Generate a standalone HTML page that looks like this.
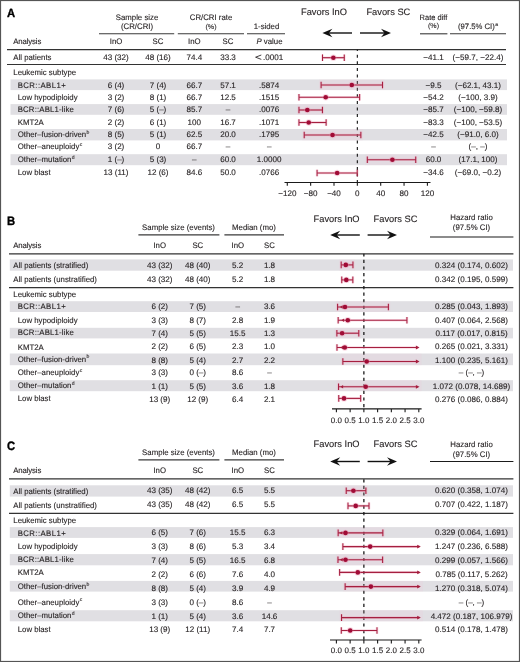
<!DOCTYPE html>
<html><head><meta charset="utf-8"><title>Forest plots</title>
<style>
html,body{margin:0;padding:0;background:#fff;}
body{width:520px;height:662px;overflow:hidden;}
svg{display:block;filter:blur(0.3px);}
text{font-family:"Liberation Sans",sans-serif;stroke:#231f20;stroke-width:0.12px;text-rendering:geometricPrecision;}
</style></head><body>
<svg width="520" height="662" viewBox="0 0 520 662" font-family="Liberation Sans, sans-serif" fill="#231f20">
<rect x="0" y="0" width="520" height="662" fill="#fff"/>
<text transform="translate(7.00 17.00) scale(0.9515 1)" font-size="11.845" fill="#000" font-weight="bold" style="stroke:#000;stroke-width:0.35px">A</text>
<text transform="translate(137.00 19.60) scale(0.9750 1)" font-size="8.000" text-anchor="middle">Sample size</text>
<text transform="translate(137.00 29.00) scale(0.9750 1)" font-size="8.000" text-anchor="middle">(CR/CRI)</text>
<line x1="99.00" y1="33.80" x2="174.20" y2="33.80" stroke="#3a3a3a" stroke-width="1.1"/>
<text transform="translate(211.00 19.60) scale(0.9750 1)" font-size="8.000" text-anchor="middle">CR/CRI rate</text>
<text transform="translate(211.00 28.50) scale(1.0100 1)" font-size="7.000" text-anchor="middle">(%)</text>
<line x1="177.80" y1="33.80" x2="244.00" y2="33.80" stroke="#3a3a3a" stroke-width="1.1"/>
<text transform="translate(266.50 29.00) scale(0.9750 1)" font-size="8.000" text-anchor="middle">1-sided</text>
<line x1="247.00" y1="33.80" x2="285.00" y2="33.80" stroke="#3a3a3a" stroke-width="1.1"/>
<text transform="translate(13.30 43.80) scale(0.9750 1)" font-size="8.000" textLength="28.72" lengthAdjust="spacing">Analysis</text>
<text transform="translate(116.00 43.80) scale(0.9750 1)" font-size="8.000" text-anchor="middle">InO</text>
<text transform="translate(158.00 43.80) scale(0.9750 1)" font-size="8.000" text-anchor="middle">SC</text>
<text transform="translate(194.30 43.80) scale(0.9750 1)" font-size="8.000" text-anchor="middle">InO</text>
<text transform="translate(228.00 43.80) scale(0.9750 1)" font-size="8.000" text-anchor="middle">SC</text>
<text transform="translate(269.50 43.80) scale(0.9750 1)" font-size="8.000" text-anchor="middle"><tspan font-style="italic">P</tspan> value</text>
<text transform="translate(301.00 15.20) scale(1.0000 1)" font-size="9.300">Favors InO</text>
<text transform="translate(366.40 15.20) scale(1.0000 1)" font-size="9.300">Favors SC</text>
<line x1="327.40" y1="33.00" x2="352.00" y2="33.00" stroke="#111" stroke-width="1.4"/>
<path d="M322.40,33.00 L332.40,28.70 L328.90,33.00 L332.40,37.30 Z" fill="#111"/>
<line x1="360.00" y1="33.00" x2="386.00" y2="33.00" stroke="#111" stroke-width="1.4"/>
<path d="M391.00,33.00 L381.00,28.70 L384.50,33.00 L381.00,37.30 Z" fill="#111"/>
<text transform="translate(433.50 19.50) scale(0.9750 1)" font-size="7.700" text-anchor="middle">Rate diff</text>
<text transform="translate(433.50 28.30) scale(1.0100 1)" font-size="7.000" text-anchor="middle">(%)</text>
<line x1="420.00" y1="33.80" x2="447.40" y2="33.80" stroke="#3a3a3a" stroke-width="1.1"/>
<text transform="translate(478.00 29.20) scale(0.9750 1)" font-size="7.900" text-anchor="middle">(97.5% CI)<tspan font-size="5.2" dx="0.4" dy="-3.4">a</tspan></text>
<line x1="450.00" y1="33.80" x2="506.00" y2="33.80" stroke="#3a3a3a" stroke-width="1.1"/>
<line x1="7.00" y1="49.60" x2="506.00" y2="49.60" stroke="#333" stroke-width="1.2"/>
<line x1="7.00" y1="64.50" x2="506.00" y2="64.50" stroke="#333" stroke-width="1.2"/>
<rect x="10.50" y="79.40" width="496.50" height="10.70" fill="#e0dfe3"/>
<rect x="10.50" y="104.10" width="496.50" height="10.70" fill="#e0dfe3"/>
<rect x="10.50" y="129.00" width="496.50" height="11.40" fill="#e0dfe3"/>
<rect x="10.50" y="154.20" width="496.50" height="11.00" fill="#e0dfe3"/>
<line x1="357.35" y1="49.60" x2="357.35" y2="182.50" stroke="#1a1a1a" stroke-width="1.15" stroke-dasharray="3.0 3.6" stroke-dashoffset="1.5"/>
<text transform="translate(13.30 59.80) scale(0.9750 1)" font-size="8.000">All patients</text>
<text transform="translate(116.00 59.80) scale(1.0100 1)" font-size="8.000" text-anchor="middle">43 (32)</text>
<text transform="translate(158.00 59.80) scale(1.0100 1)" font-size="8.000" text-anchor="middle">48 (16)</text>
<text transform="translate(194.30 59.80) scale(1.0100 1)" font-size="8.000" text-anchor="middle">74.4</text>
<text transform="translate(228.00 59.80) scale(1.0100 1)" font-size="8.000" text-anchor="middle">33.3</text>
<text transform="translate(433.50 59.80) scale(1.0100 1)" font-size="8.000" text-anchor="middle">−41.1</text>
<text transform="translate(478.00 59.80) scale(1.0100 1)" font-size="8.000" text-anchor="middle">(−59.7, −22.4)</text>
<path d="M322.50,54.40V61.00M322.50,57.70H344.27M344.27,54.40V61.00" stroke="#ee8fb0" stroke-width="2.6" stroke-opacity="0.35" fill="none"/>
<line x1="322.50" y1="57.70" x2="344.27" y2="57.70" stroke="#a51f3f" stroke-width="1.1"/>
<line x1="322.50" y1="54.40" x2="322.50" y2="61.00" stroke="#a51f3f" stroke-width="1.05"/>
<line x1="344.27" y1="54.40" x2="344.27" y2="61.00" stroke="#a51f3f" stroke-width="1.05"/>
<circle cx="333.36" cy="57.70" r="3.2" fill="#ee8fb0" fill-opacity="0.35"/>
<circle cx="333.36" cy="57.70" r="2.3" fill="#a00c36"/>
<path d="M261.3,55.0 L255.6,57.2 L261.3,59.4" fill="none" stroke="#231f20" stroke-width="0.85"/>
<text transform="translate(263.00 60.20) scale(1.0100 1)" font-size="8.000">.0001</text>
<text transform="translate(13.30 74.50) scale(0.9750 1)" font-size="8.000">Leukemic subtype</text>
<text transform="translate(17.70 87.70) scale(0.9750 1)" font-size="8.000" textLength="49.23" lengthAdjust="spacing">BCR::ABL1+</text>
<text transform="translate(116.00 87.70) scale(1.0100 1)" font-size="8.000" text-anchor="middle">6 (4)</text>
<text transform="translate(158.00 87.70) scale(1.0100 1)" font-size="8.000" text-anchor="middle">7 (4)</text>
<text transform="translate(194.30 87.70) scale(1.0100 1)" font-size="8.000" text-anchor="middle">66.7</text>
<text transform="translate(228.00 87.70) scale(1.0100 1)" font-size="8.000" text-anchor="middle">57.1</text>
<text transform="translate(269.20 87.70) scale(1.0100 1)" font-size="8.000" text-anchor="middle">.5874</text>
<text transform="translate(433.50 87.70) scale(1.0100 1)" font-size="8.000" text-anchor="middle">−9.5</text>
<text transform="translate(478.00 87.70) scale(1.0100 1)" font-size="8.000" text-anchor="middle">(−62.1, 43.1)</text>
<rect x="319.10" y="79.40" width="65.42" height="10.70" fill="#f4c8d8" fill-opacity="0.18"/>
<path d="M321.10,81.70V88.30M321.10,85.00H382.51M382.51,81.70V88.30" stroke="#ee8fb0" stroke-width="2.6" stroke-opacity="0.35" fill="none"/>
<line x1="321.10" y1="85.00" x2="382.51" y2="85.00" stroke="#a51f3f" stroke-width="1.1"/>
<line x1="321.10" y1="81.70" x2="321.10" y2="88.30" stroke="#a51f3f" stroke-width="1.05"/>
<line x1="382.51" y1="81.70" x2="382.51" y2="88.30" stroke="#a51f3f" stroke-width="1.05"/>
<circle cx="351.80" cy="85.00" r="3.2" fill="#ee8fb0" fill-opacity="0.35"/>
<circle cx="351.80" cy="85.00" r="2.3" fill="#a00c36"/>
<text transform="translate(17.70 99.80) scale(0.9750 1)" font-size="8.000">Low hypodiploidy</text>
<text transform="translate(116.00 99.80) scale(1.0100 1)" font-size="8.000" text-anchor="middle">3 (2)</text>
<text transform="translate(158.00 99.80) scale(1.0100 1)" font-size="8.000" text-anchor="middle">8 (1)</text>
<text transform="translate(194.30 99.80) scale(1.0100 1)" font-size="8.000" text-anchor="middle">66.7</text>
<text transform="translate(228.00 99.80) scale(1.0100 1)" font-size="8.000" text-anchor="middle">12.5</text>
<text transform="translate(269.20 99.80) scale(1.0100 1)" font-size="8.000" text-anchor="middle">.1515</text>
<text transform="translate(433.50 99.80) scale(1.0100 1)" font-size="8.000" text-anchor="middle">−54.2</text>
<text transform="translate(478.00 99.80) scale(1.0100 1)" font-size="8.000" text-anchor="middle">(−100, 3.9)</text>
<path d="M298.97,94.00V100.60M298.97,97.30H359.63M359.63,94.00V100.60" stroke="#ee8fb0" stroke-width="2.6" stroke-opacity="0.35" fill="none"/>
<line x1="298.97" y1="97.30" x2="359.63" y2="97.30" stroke="#a51f3f" stroke-width="1.1"/>
<line x1="298.97" y1="94.00" x2="298.97" y2="100.60" stroke="#a51f3f" stroke-width="1.05"/>
<line x1="359.63" y1="94.00" x2="359.63" y2="100.60" stroke="#a51f3f" stroke-width="1.05"/>
<circle cx="325.71" cy="97.30" r="3.2" fill="#ee8fb0" fill-opacity="0.35"/>
<circle cx="325.71" cy="97.30" r="2.3" fill="#a00c36"/>
<text transform="translate(17.70 112.20) scale(0.9750 1)" font-size="8.000" textLength="57.64" lengthAdjust="spacing">BCR::ABL1-like</text>
<text transform="translate(116.00 112.20) scale(1.0100 1)" font-size="8.000" text-anchor="middle">7 (6)</text>
<text transform="translate(158.00 112.20) scale(1.0100 1)" font-size="8.000" text-anchor="middle">5 (–)</text>
<text transform="translate(194.30 112.20) scale(1.0100 1)" font-size="8.000" text-anchor="middle">85.7</text>
<text transform="translate(228.00 112.20) scale(1.0100 1)" font-size="8.000" text-anchor="middle">–</text>
<text transform="translate(269.20 112.20) scale(1.0100 1)" font-size="8.000" text-anchor="middle">.0076</text>
<text transform="translate(433.50 112.20) scale(1.0100 1)" font-size="8.000" text-anchor="middle">−85.7</text>
<text transform="translate(478.00 112.20) scale(1.0100 1)" font-size="8.000" text-anchor="middle">(−100, −59.8)</text>
<rect x="296.97" y="104.10" width="27.47" height="10.70" fill="#f4c8d8" fill-opacity="0.18"/>
<path d="M298.97,106.70V113.30M298.97,110.00H322.44M322.44,106.70V113.30" stroke="#ee8fb0" stroke-width="2.6" stroke-opacity="0.35" fill="none"/>
<line x1="298.97" y1="110.00" x2="322.44" y2="110.00" stroke="#a51f3f" stroke-width="1.1"/>
<line x1="298.97" y1="106.70" x2="298.97" y2="113.30" stroke="#a51f3f" stroke-width="1.05"/>
<line x1="322.44" y1="106.70" x2="322.44" y2="113.30" stroke="#a51f3f" stroke-width="1.05"/>
<circle cx="307.32" cy="110.00" r="3.2" fill="#ee8fb0" fill-opacity="0.35"/>
<circle cx="307.32" cy="110.00" r="2.3" fill="#a00c36"/>
<text transform="translate(17.70 124.90) scale(0.9750 1)" font-size="8.000">KMT2A</text>
<text transform="translate(116.00 124.90) scale(1.0100 1)" font-size="8.000" text-anchor="middle">2 (2)</text>
<text transform="translate(158.00 124.90) scale(1.0100 1)" font-size="8.000" text-anchor="middle">6 (1)</text>
<text transform="translate(194.30 124.90) scale(1.0100 1)" font-size="8.000" text-anchor="middle">100</text>
<text transform="translate(228.00 124.90) scale(1.0100 1)" font-size="8.000" text-anchor="middle">16.7</text>
<text transform="translate(269.20 124.90) scale(1.0100 1)" font-size="8.000" text-anchor="middle">.1071</text>
<text transform="translate(433.50 124.90) scale(1.0100 1)" font-size="8.000" text-anchor="middle">−83.3</text>
<text transform="translate(478.00 124.90) scale(1.0100 1)" font-size="8.000" text-anchor="middle">(−100, −53.5)</text>
<path d="M298.97,119.20V125.80M298.97,122.50H326.12M326.12,119.20V125.80" stroke="#ee8fb0" stroke-width="2.6" stroke-opacity="0.35" fill="none"/>
<line x1="298.97" y1="122.50" x2="326.12" y2="122.50" stroke="#a51f3f" stroke-width="1.1"/>
<line x1="298.97" y1="119.20" x2="298.97" y2="125.80" stroke="#a51f3f" stroke-width="1.05"/>
<line x1="326.12" y1="119.20" x2="326.12" y2="125.80" stroke="#a51f3f" stroke-width="1.05"/>
<circle cx="308.72" cy="122.50" r="3.2" fill="#ee8fb0" fill-opacity="0.35"/>
<circle cx="308.72" cy="122.50" r="2.3" fill="#a00c36"/>
<text transform="translate(17.70 137.20) scale(0.9750 1)" font-size="8.000">Other–fusion-driven<tspan font-size="5.2" dx="0.4" dy="-3.4">b</tspan></text>
<text transform="translate(116.00 137.20) scale(1.0100 1)" font-size="8.000" text-anchor="middle">8 (5)</text>
<text transform="translate(158.00 137.20) scale(1.0100 1)" font-size="8.000" text-anchor="middle">5 (1)</text>
<text transform="translate(194.30 137.20) scale(1.0100 1)" font-size="8.000" text-anchor="middle">62.5</text>
<text transform="translate(228.00 137.20) scale(1.0100 1)" font-size="8.000" text-anchor="middle">20.0</text>
<text transform="translate(269.20 137.20) scale(1.0100 1)" font-size="8.000" text-anchor="middle">.1795</text>
<text transform="translate(433.50 137.20) scale(1.0100 1)" font-size="8.000" text-anchor="middle">−42.5</text>
<text transform="translate(478.00 137.20) scale(1.0100 1)" font-size="8.000" text-anchor="middle">(−91.0, 6.0)</text>
<rect x="302.22" y="129.00" width="60.63" height="11.40" fill="#f4c8d8" fill-opacity="0.18"/>
<path d="M304.22,131.70V138.30M304.22,135.00H360.85M360.85,131.70V138.30" stroke="#ee8fb0" stroke-width="2.6" stroke-opacity="0.35" fill="none"/>
<line x1="304.22" y1="135.00" x2="360.85" y2="135.00" stroke="#a51f3f" stroke-width="1.1"/>
<line x1="304.22" y1="131.70" x2="304.22" y2="138.30" stroke="#a51f3f" stroke-width="1.05"/>
<line x1="360.85" y1="131.70" x2="360.85" y2="138.30" stroke="#a51f3f" stroke-width="1.05"/>
<circle cx="332.54" cy="135.00" r="3.2" fill="#ee8fb0" fill-opacity="0.35"/>
<circle cx="332.54" cy="135.00" r="2.3" fill="#a00c36"/>
<text transform="translate(17.70 149.40) scale(0.9750 1)" font-size="8.000">Other–aneuploidy<tspan font-size="5.2" dx="0.4" dy="-3.4">c</tspan></text>
<text transform="translate(116.00 149.40) scale(1.0100 1)" font-size="8.000" text-anchor="middle">3 (2)</text>
<text transform="translate(158.00 149.40) scale(1.0100 1)" font-size="8.000" text-anchor="middle">0</text>
<text transform="translate(194.30 149.40) scale(1.0100 1)" font-size="8.000" text-anchor="middle">66.7</text>
<text transform="translate(228.00 149.40) scale(1.0100 1)" font-size="8.000" text-anchor="middle">–</text>
<text transform="translate(269.20 149.40) scale(1.0100 1)" font-size="8.000" text-anchor="middle">–</text>
<text transform="translate(433.50 149.40) scale(1.0100 1)" font-size="8.000" text-anchor="middle">–</text>
<text transform="translate(478.00 149.40) scale(1.0100 1)" font-size="8.000" text-anchor="middle">(–, –)</text>
<text transform="translate(17.70 162.30) scale(0.9750 1)" font-size="8.000">Other–mutation<tspan font-size="5.2" dx="0.4" dy="-3.4">d</tspan></text>
<text transform="translate(116.00 162.30) scale(1.0100 1)" font-size="8.000" text-anchor="middle">1 (–)</text>
<text transform="translate(158.00 162.30) scale(1.0100 1)" font-size="8.000" text-anchor="middle">5 (3)</text>
<text transform="translate(194.30 162.30) scale(1.0100 1)" font-size="8.000" text-anchor="middle">–</text>
<text transform="translate(228.00 162.30) scale(1.0100 1)" font-size="8.000" text-anchor="middle">60.0</text>
<text transform="translate(269.20 162.30) scale(1.0100 1)" font-size="8.000" text-anchor="middle">1.0000</text>
<text transform="translate(433.50 162.30) scale(1.0100 1)" font-size="8.000" text-anchor="middle">60.0</text>
<text transform="translate(478.00 162.30) scale(1.0100 1)" font-size="8.000" text-anchor="middle">(17.1, 100)</text>
<rect x="365.33" y="154.20" width="52.40" height="11.00" fill="#f4c8d8" fill-opacity="0.18"/>
<path d="M367.33,156.40V163.00M367.33,159.70H415.73M415.73,156.40V163.00" stroke="#ee8fb0" stroke-width="2.6" stroke-opacity="0.35" fill="none"/>
<line x1="367.33" y1="159.70" x2="415.73" y2="159.70" stroke="#a51f3f" stroke-width="1.1"/>
<line x1="367.33" y1="156.40" x2="367.33" y2="163.00" stroke="#a51f3f" stroke-width="1.05"/>
<line x1="415.73" y1="156.40" x2="415.73" y2="163.00" stroke="#a51f3f" stroke-width="1.05"/>
<circle cx="392.38" cy="159.70" r="3.2" fill="#ee8fb0" fill-opacity="0.35"/>
<circle cx="392.38" cy="159.70" r="2.3" fill="#a00c36"/>
<text transform="translate(17.70 175.30) scale(0.9750 1)" font-size="8.000">Low blast</text>
<text transform="translate(116.00 175.30) scale(1.0100 1)" font-size="8.000" text-anchor="middle">13 (11)</text>
<text transform="translate(158.00 175.30) scale(1.0100 1)" font-size="8.000" text-anchor="middle">12 (6)</text>
<text transform="translate(194.30 175.30) scale(1.0100 1)" font-size="8.000" text-anchor="middle">84.6</text>
<text transform="translate(228.00 175.30) scale(1.0100 1)" font-size="8.000" text-anchor="middle">50.0</text>
<text transform="translate(269.20 175.30) scale(1.0100 1)" font-size="8.000" text-anchor="middle">.0766</text>
<text transform="translate(433.50 175.30) scale(1.0100 1)" font-size="8.000" text-anchor="middle">−34.6</text>
<text transform="translate(478.00 175.30) scale(1.0100 1)" font-size="8.000" text-anchor="middle">(−69.0, −0.2)</text>
<path d="M317.07,169.70V176.30M317.07,173.00H357.23M357.23,169.70V176.30" stroke="#ee8fb0" stroke-width="2.6" stroke-opacity="0.35" fill="none"/>
<line x1="317.07" y1="173.00" x2="357.23" y2="173.00" stroke="#a51f3f" stroke-width="1.1"/>
<line x1="317.07" y1="169.70" x2="317.07" y2="176.30" stroke="#a51f3f" stroke-width="1.05"/>
<line x1="357.23" y1="169.70" x2="357.23" y2="176.30" stroke="#a51f3f" stroke-width="1.05"/>
<circle cx="337.15" cy="173.00" r="3.2" fill="#ee8fb0" fill-opacity="0.35"/>
<circle cx="337.15" cy="173.00" r="2.3" fill="#a00c36"/>
<line x1="284.50" y1="182.50" x2="430.50" y2="182.50" stroke="#1a1a1a" stroke-width="1.2"/>
<line x1="287.29" y1="182.50" x2="287.29" y2="185.70" stroke="#1a1a1a" stroke-width="1.1"/>
<text transform="translate(287.29 195.60) scale(1.0100 1)" font-size="8.000" text-anchor="middle">−120</text>
<line x1="310.65" y1="182.50" x2="310.65" y2="185.70" stroke="#1a1a1a" stroke-width="1.1"/>
<text transform="translate(310.65 195.60) scale(1.0100 1)" font-size="8.000" text-anchor="middle">−80</text>
<line x1="334.00" y1="182.50" x2="334.00" y2="185.70" stroke="#1a1a1a" stroke-width="1.1"/>
<text transform="translate(334.00 195.60) scale(1.0100 1)" font-size="8.000" text-anchor="middle">−40</text>
<line x1="357.35" y1="182.50" x2="357.35" y2="185.70" stroke="#1a1a1a" stroke-width="1.1"/>
<text transform="translate(357.35 195.60) scale(1.0100 1)" font-size="8.000" text-anchor="middle">0</text>
<line x1="380.70" y1="182.50" x2="380.70" y2="185.70" stroke="#1a1a1a" stroke-width="1.1"/>
<text transform="translate(380.70 195.60) scale(1.0100 1)" font-size="8.000" text-anchor="middle">40</text>
<line x1="404.05" y1="182.50" x2="404.05" y2="185.70" stroke="#1a1a1a" stroke-width="1.1"/>
<text transform="translate(404.05 195.60) scale(1.0100 1)" font-size="8.000" text-anchor="middle">80</text>
<line x1="427.41" y1="182.50" x2="427.41" y2="185.70" stroke="#1a1a1a" stroke-width="1.1"/>
<text transform="translate(427.41 195.60) scale(1.0100 1)" font-size="8.000" text-anchor="middle">120</text>
<text transform="translate(7.00 224.60) scale(0.9245 1)" font-size="12.190" fill="#000" font-weight="bold" style="stroke:#000;stroke-width:0.35px">B</text>
<text transform="translate(178.50 230.00) scale(0.9750 1)" font-size="8.000" text-anchor="middle">Sample size (events)</text>
<line x1="138.40" y1="234.90" x2="219.40" y2="234.90" stroke="#3a3a3a" stroke-width="1.1"/>
<text transform="translate(254.00 230.00) scale(0.9750 1)" font-size="8.000" text-anchor="middle">Median (mo)</text>
<line x1="224.40" y1="234.90" x2="284.00" y2="234.90" stroke="#3a3a3a" stroke-width="1.1"/>
<text transform="translate(13.30 248.00) scale(0.9750 1)" font-size="8.000" textLength="28.72" lengthAdjust="spacing">Analysis</text>
<text transform="translate(159.70 248.00) scale(0.9750 1)" font-size="8.000" text-anchor="middle">InO</text>
<text transform="translate(197.80 248.00) scale(0.9750 1)" font-size="8.000" text-anchor="middle">SC</text>
<text transform="translate(237.80 248.00) scale(0.9750 1)" font-size="8.000" text-anchor="middle">InO</text>
<text transform="translate(269.40 248.00) scale(0.9750 1)" font-size="8.000" text-anchor="middle">SC</text>
<text transform="translate(313.60 222.40) scale(1.0000 1)" font-size="9.300">Favors InO</text>
<text transform="translate(373.60 222.40) scale(1.0000 1)" font-size="9.300">Favors SC</text>
<line x1="335.20" y1="235.00" x2="359.80" y2="235.00" stroke="#111" stroke-width="1.4"/>
<path d="M330.20,235.00 L340.20,230.70 L336.70,235.00 L340.20,239.30 Z" fill="#111"/>
<line x1="367.60" y1="235.00" x2="392.00" y2="235.00" stroke="#111" stroke-width="1.4"/>
<path d="M397.00,235.00 L387.00,230.70 L390.50,235.00 L387.00,239.30 Z" fill="#111"/>
<text transform="translate(471.50 220.10) scale(0.9750 1)" font-size="8.000" text-anchor="middle">Hazard ratio</text>
<text transform="translate(471.50 229.80) scale(0.9750 1)" font-size="8.000" text-anchor="middle">(97.5% CI)</text>
<line x1="430.00" y1="237.00" x2="513.40" y2="237.00" stroke="#1a1a1a" stroke-width="1.1"/>
<line x1="9.00" y1="253.80" x2="513.40" y2="253.80" stroke="#333" stroke-width="1.3"/>
<rect x="9.80" y="259.40" width="503.20" height="11.30" fill="#e0dfe3"/>
<rect x="9.80" y="301.20" width="503.20" height="10.80" fill="#e0dfe3"/>
<rect x="9.80" y="327.80" width="503.20" height="10.60" fill="#e0dfe3"/>
<rect x="9.80" y="353.50" width="503.20" height="11.70" fill="#e0dfe3"/>
<rect x="9.80" y="380.20" width="503.20" height="11.00" fill="#e0dfe3"/>
<line x1="9.00" y1="287.70" x2="513.40" y2="287.70" stroke="#333" stroke-width="1.3"/>
<line x1="363.87" y1="253.80" x2="363.87" y2="408.90" stroke="#1a1a1a" stroke-width="1.3" stroke-dasharray="3.2 3.35" stroke-dashoffset="0.5"/>
<text transform="translate(13.30 267.60) scale(0.9750 1)" font-size="8.000">All patients (stratified)</text>
<text transform="translate(159.70 267.60) scale(1.0100 1)" font-size="8.000" text-anchor="middle">43 (32)</text>
<text transform="translate(197.70 267.60) scale(1.0100 1)" font-size="8.000" text-anchor="middle">48 (40)</text>
<text transform="translate(237.70 267.60) scale(1.0100 1)" font-size="8.000" text-anchor="middle">5.2</text>
<text transform="translate(269.50 267.60) scale(1.0100 1)" font-size="8.000" text-anchor="middle">1.8</text>
<text transform="translate(471.50 267.60) scale(1.0100 1)" font-size="8.000" text-anchor="middle">0.324 (0.174, 0.602)</text>
<rect x="339.18" y="259.40" width="15.76" height="11.30" fill="#f4c8d8" fill-opacity="0.18"/>
<path d="M341.18,261.60V268.20M341.18,264.90H352.94M352.94,261.60V268.20" stroke="#ee8fb0" stroke-width="2.6" stroke-opacity="0.35" fill="none"/>
<line x1="341.18" y1="264.90" x2="352.94" y2="264.90" stroke="#a51f3f" stroke-width="1.1"/>
<line x1="341.18" y1="261.60" x2="341.18" y2="268.20" stroke="#a51f3f" stroke-width="1.05"/>
<line x1="352.94" y1="261.60" x2="352.94" y2="268.20" stroke="#a51f3f" stroke-width="1.05"/>
<circle cx="345.80" cy="264.90" r="3.2" fill="#ee8fb0" fill-opacity="0.35"/>
<circle cx="345.80" cy="264.90" r="2.3" fill="#a00c36"/>
<text transform="translate(13.30 281.80) scale(0.9750 1)" font-size="8.000">All patients (unstratified)</text>
<text transform="translate(159.70 281.90) scale(1.0100 1)" font-size="8.000" text-anchor="middle">43 (32)</text>
<text transform="translate(197.70 281.90) scale(1.0100 1)" font-size="8.000" text-anchor="middle">48 (40)</text>
<text transform="translate(237.70 281.90) scale(1.0100 1)" font-size="8.000" text-anchor="middle">5.2</text>
<text transform="translate(269.50 281.90) scale(1.0100 1)" font-size="8.000" text-anchor="middle">1.8</text>
<text transform="translate(471.50 281.90) scale(1.0100 1)" font-size="8.000" text-anchor="middle">0.342 (0.195, 0.599)</text>
<path d="M341.76,276.60V283.20M341.76,279.90H352.85M352.85,276.60V283.20" stroke="#ee8fb0" stroke-width="2.6" stroke-opacity="0.35" fill="none"/>
<line x1="341.76" y1="279.90" x2="352.85" y2="279.90" stroke="#a51f3f" stroke-width="1.1"/>
<line x1="341.76" y1="276.60" x2="341.76" y2="283.20" stroke="#a51f3f" stroke-width="1.05"/>
<line x1="352.85" y1="276.60" x2="352.85" y2="283.20" stroke="#a51f3f" stroke-width="1.05"/>
<circle cx="346.30" cy="279.90" r="3.2" fill="#ee8fb0" fill-opacity="0.35"/>
<circle cx="346.30" cy="279.90" r="2.3" fill="#a00c36"/>
<text transform="translate(17.70 309.10) scale(0.9750 1)" font-size="8.000" textLength="49.23" lengthAdjust="spacing">BCR::ABL1+</text>
<text transform="translate(159.70 309.40) scale(1.0100 1)" font-size="8.000" text-anchor="middle">6 (2)</text>
<text transform="translate(197.70 309.40) scale(1.0100 1)" font-size="8.000" text-anchor="middle">7 (5)</text>
<text transform="translate(237.70 309.40) scale(1.0100 1)" font-size="8.000" text-anchor="middle">–</text>
<text transform="translate(269.50 309.40) scale(1.0100 1)" font-size="8.000" text-anchor="middle">3.6</text>
<text transform="translate(471.50 309.40) scale(1.0100 1)" font-size="8.000" text-anchor="middle">0.285 (0.043, 1.893)</text>
<rect x="335.58" y="301.20" width="54.82" height="10.80" fill="#f4c8d8" fill-opacity="0.18"/>
<path d="M337.58,303.70V310.30M337.58,307.00H388.40M388.40,303.70V310.30" stroke="#ee8fb0" stroke-width="2.6" stroke-opacity="0.35" fill="none"/>
<line x1="337.58" y1="307.00" x2="388.40" y2="307.00" stroke="#a51f3f" stroke-width="1.1"/>
<line x1="337.58" y1="303.70" x2="337.58" y2="310.30" stroke="#a51f3f" stroke-width="1.05"/>
<line x1="388.40" y1="303.70" x2="388.40" y2="310.30" stroke="#a51f3f" stroke-width="1.05"/>
<circle cx="345.00" cy="307.00" r="3.2" fill="#ee8fb0" fill-opacity="0.35"/>
<circle cx="345.00" cy="307.00" r="2.3" fill="#a00c36"/>
<path d="M339.90,307.00 L342.60,305.30 L342.60,308.70 Z" fill="#a51f3f"/>
<text transform="translate(17.70 322.70) scale(0.9750 1)" font-size="8.000">Low hypodiploidy</text>
<text transform="translate(159.70 322.50) scale(1.0100 1)" font-size="8.000" text-anchor="middle">3 (3)</text>
<text transform="translate(197.70 322.50) scale(1.0100 1)" font-size="8.000" text-anchor="middle">8 (7)</text>
<text transform="translate(237.70 322.50) scale(1.0100 1)" font-size="8.000" text-anchor="middle">2.8</text>
<text transform="translate(269.50 322.50) scale(1.0100 1)" font-size="8.000" text-anchor="middle">1.9</text>
<text transform="translate(471.50 322.50) scale(1.0100 1)" font-size="8.000" text-anchor="middle">0.407 (0.064, 2.568)</text>
<path d="M338.16,316.90V323.50M338.16,320.20H406.94M406.94,316.90V323.50" stroke="#ee8fb0" stroke-width="2.6" stroke-opacity="0.35" fill="none"/>
<line x1="338.16" y1="320.20" x2="406.94" y2="320.20" stroke="#a51f3f" stroke-width="1.1"/>
<line x1="338.16" y1="316.90" x2="338.16" y2="323.50" stroke="#a51f3f" stroke-width="1.05"/>
<line x1="406.94" y1="316.90" x2="406.94" y2="323.50" stroke="#a51f3f" stroke-width="1.05"/>
<circle cx="347.80" cy="320.20" r="3.2" fill="#ee8fb0" fill-opacity="0.35"/>
<circle cx="347.80" cy="320.20" r="2.3" fill="#a00c36"/>
<path d="M341.40,320.20 L344.10,318.50 L344.10,321.90 Z" fill="#a51f3f"/>
<text transform="translate(17.70 335.00) scale(0.9750 1)" font-size="8.000" textLength="57.64" lengthAdjust="spacing">BCR::ABL1-like</text>
<text transform="translate(159.70 335.50) scale(1.0100 1)" font-size="8.000" text-anchor="middle">7 (4)</text>
<text transform="translate(197.70 335.50) scale(1.0100 1)" font-size="8.000" text-anchor="middle">5 (5)</text>
<text transform="translate(237.70 335.50) scale(1.0100 1)" font-size="8.000" text-anchor="middle">15.5</text>
<text transform="translate(269.50 335.50) scale(1.0100 1)" font-size="8.000" text-anchor="middle">1.3</text>
<text transform="translate(471.50 335.50) scale(1.0100 1)" font-size="8.000" text-anchor="middle">0.117 (0.017, 0.815)</text>
<rect x="334.87" y="327.80" width="25.92" height="10.60" fill="#f4c8d8" fill-opacity="0.18"/>
<path d="M336.87,329.90V336.50M336.87,333.20H358.79M358.79,329.90V336.50" stroke="#ee8fb0" stroke-width="2.6" stroke-opacity="0.35" fill="none"/>
<line x1="336.87" y1="333.20" x2="358.79" y2="333.20" stroke="#a51f3f" stroke-width="1.1"/>
<line x1="336.87" y1="329.90" x2="336.87" y2="336.50" stroke="#a51f3f" stroke-width="1.05"/>
<line x1="358.79" y1="329.90" x2="358.79" y2="336.50" stroke="#a51f3f" stroke-width="1.05"/>
<circle cx="342.10" cy="333.20" r="3.2" fill="#ee8fb0" fill-opacity="0.35"/>
<circle cx="342.10" cy="333.20" r="2.3" fill="#a00c36"/>
<text transform="translate(17.70 349.80) scale(0.9750 1)" font-size="8.000">KMT2A</text>
<text transform="translate(159.70 349.00) scale(1.0100 1)" font-size="8.000" text-anchor="middle">2 (2)</text>
<text transform="translate(197.70 349.00) scale(1.0100 1)" font-size="8.000" text-anchor="middle">6 (5)</text>
<text transform="translate(237.70 349.00) scale(1.0100 1)" font-size="8.000" text-anchor="middle">2.3</text>
<text transform="translate(269.50 349.00) scale(1.0100 1)" font-size="8.000" text-anchor="middle">1.0</text>
<text transform="translate(471.50 349.00) scale(1.0100 1)" font-size="8.000" text-anchor="middle">0.265 (0.021, 3.331)</text>
<path d="M336.98,344.20V350.80M336.98,347.50H418.00" stroke="#ee8fb0" stroke-width="2.6" stroke-opacity="0.35" fill="none"/>
<line x1="336.98" y1="347.50" x2="418.00" y2="347.50" stroke="#a51f3f" stroke-width="1.1"/>
<line x1="336.98" y1="344.20" x2="336.98" y2="350.80" stroke="#a51f3f" stroke-width="1.05"/>
<path d="M419.50,347.50 L415.90,345.60 L415.90,349.40 Z" fill="#a51f3f"/>
<circle cx="344.80" cy="347.50" r="3.2" fill="#ee8fb0" fill-opacity="0.35"/>
<circle cx="344.80" cy="347.50" r="2.3" fill="#a00c36"/>
<path d="M340.40,347.50 L343.10,345.80 L343.10,349.20 Z" fill="#a51f3f"/>
<text transform="translate(17.70 361.50) scale(0.9750 1)" font-size="8.000">Other–fusion-driven<tspan font-size="5.2" dx="0.4" dy="-3.4">b</tspan></text>
<text transform="translate(159.70 362.50) scale(1.0100 1)" font-size="8.000" text-anchor="middle">8 (8)</text>
<text transform="translate(197.70 362.50) scale(1.0100 1)" font-size="8.000" text-anchor="middle">5 (4)</text>
<text transform="translate(237.70 362.50) scale(1.0100 1)" font-size="8.000" text-anchor="middle">2.7</text>
<text transform="translate(269.50 362.50) scale(1.0100 1)" font-size="8.000" text-anchor="middle">2.2</text>
<text transform="translate(471.50 362.50) scale(1.0100 1)" font-size="8.000" text-anchor="middle">1.100 (0.235, 5.161)</text>
<rect x="340.86" y="353.50" width="80.64" height="11.70" fill="#f4c8d8" fill-opacity="0.18"/>
<path d="M342.86,358.20V364.80M342.86,361.50H418.00" stroke="#ee8fb0" stroke-width="2.6" stroke-opacity="0.35" fill="none"/>
<line x1="342.86" y1="361.50" x2="418.00" y2="361.50" stroke="#a51f3f" stroke-width="1.1"/>
<line x1="342.86" y1="358.20" x2="342.86" y2="364.80" stroke="#a51f3f" stroke-width="1.05"/>
<path d="M419.50,361.50 L415.90,359.60 L415.90,363.40 Z" fill="#a51f3f"/>
<circle cx="366.70" cy="361.50" r="3.2" fill="#ee8fb0" fill-opacity="0.35"/>
<circle cx="366.70" cy="361.50" r="2.3" fill="#a00c36"/>
<text transform="translate(17.70 375.20) scale(0.9750 1)" font-size="8.000">Other–aneuploidy<tspan font-size="5.2" dx="0.4" dy="-3.4">c</tspan></text>
<text transform="translate(159.70 375.30) scale(1.0100 1)" font-size="8.000" text-anchor="middle">3 (3)</text>
<text transform="translate(197.70 375.30) scale(1.0100 1)" font-size="8.000" text-anchor="middle">0 (–)</text>
<text transform="translate(237.70 375.30) scale(1.0100 1)" font-size="8.000" text-anchor="middle">8.6</text>
<text transform="translate(269.50 375.30) scale(1.0100 1)" font-size="8.000" text-anchor="middle">–</text>
<text transform="translate(471.50 375.30) scale(1.0100 1)" font-size="8.000" text-anchor="middle">– (–, –)</text>
<text transform="translate(17.70 387.90) scale(0.9750 1)" font-size="8.000">Other–mutation<tspan font-size="5.2" dx="0.4" dy="-3.4">d</tspan></text>
<text transform="translate(159.70 388.70) scale(1.0100 1)" font-size="8.000" text-anchor="middle">1 (1)</text>
<text transform="translate(197.70 388.70) scale(1.0100 1)" font-size="8.000" text-anchor="middle">5 (5)</text>
<text transform="translate(237.70 388.70) scale(1.0100 1)" font-size="8.000" text-anchor="middle">3.6</text>
<text transform="translate(269.50 388.70) scale(1.0100 1)" font-size="8.000" text-anchor="middle">1.8</text>
<text transform="translate(471.50 388.70) scale(1.0100 1)" font-size="8.000" text-anchor="middle">1.072 (0.078, 14.689)</text>
<rect x="336.54" y="380.20" width="84.96" height="11.00" fill="#f4c8d8" fill-opacity="0.18"/>
<path d="M338.54,383.50V390.10M338.54,386.80H418.00" stroke="#ee8fb0" stroke-width="2.6" stroke-opacity="0.35" fill="none"/>
<line x1="338.54" y1="386.80" x2="418.00" y2="386.80" stroke="#a51f3f" stroke-width="1.1"/>
<line x1="338.54" y1="383.50" x2="338.54" y2="390.10" stroke="#a51f3f" stroke-width="1.05"/>
<path d="M419.50,386.80 L415.90,384.90 L415.90,388.70 Z" fill="#a51f3f"/>
<circle cx="365.70" cy="386.80" r="3.2" fill="#ee8fb0" fill-opacity="0.35"/>
<circle cx="365.70" cy="386.80" r="2.3" fill="#a00c36"/>
<path d="M340.40,386.80 L343.10,385.10 L343.10,388.50 Z" fill="#a51f3f"/>
<text transform="translate(17.70 400.60) scale(0.9750 1)" font-size="8.000">Low blast</text>
<text transform="translate(159.70 401.60) scale(1.0100 1)" font-size="8.000" text-anchor="middle">13 (9)</text>
<text transform="translate(197.70 401.60) scale(1.0100 1)" font-size="8.000" text-anchor="middle">12 (9)</text>
<text transform="translate(237.70 401.60) scale(1.0100 1)" font-size="8.000" text-anchor="middle">6.4</text>
<text transform="translate(269.50 401.60) scale(1.0100 1)" font-size="8.000" text-anchor="middle">2.1</text>
<text transform="translate(471.50 401.60) scale(1.0100 1)" font-size="8.000" text-anchor="middle">0.276 (0.086, 0.884)</text>
<path d="M338.76,395.10V401.70M338.76,398.40H360.68M360.68,395.10V401.70" stroke="#ee8fb0" stroke-width="2.6" stroke-opacity="0.35" fill="none"/>
<line x1="338.76" y1="398.40" x2="360.68" y2="398.40" stroke="#a51f3f" stroke-width="1.1"/>
<line x1="338.76" y1="395.10" x2="338.76" y2="401.70" stroke="#a51f3f" stroke-width="1.05"/>
<line x1="360.68" y1="395.10" x2="360.68" y2="401.70" stroke="#a51f3f" stroke-width="1.05"/>
<circle cx="344.00" cy="398.40" r="3.2" fill="#ee8fb0" fill-opacity="0.35"/>
<circle cx="344.00" cy="398.40" r="2.3" fill="#a00c36"/>
<text transform="translate(13.30 296.60) scale(0.9750 1)" font-size="8.000">Leukemic subtype</text>
<line x1="332.00" y1="408.90" x2="421.60" y2="408.90" stroke="#1a1a1a" stroke-width="1.2"/>
<line x1="336.40" y1="408.90" x2="336.40" y2="412.30" stroke="#1a1a1a" stroke-width="1.1"/>
<text transform="translate(336.40 422.90) scale(1.0100 1)" font-size="7.900" text-anchor="middle">0.0</text>
<line x1="350.13" y1="408.90" x2="350.13" y2="412.30" stroke="#1a1a1a" stroke-width="1.1"/>
<text transform="translate(350.13 422.90) scale(1.0100 1)" font-size="7.900" text-anchor="middle">0.5</text>
<line x1="363.87" y1="408.90" x2="363.87" y2="412.30" stroke="#1a1a1a" stroke-width="1.1"/>
<text transform="translate(363.87 422.90) scale(1.0100 1)" font-size="7.900" text-anchor="middle">1.0</text>
<line x1="377.60" y1="408.90" x2="377.60" y2="412.30" stroke="#1a1a1a" stroke-width="1.1"/>
<text transform="translate(377.60 422.90) scale(1.0100 1)" font-size="7.900" text-anchor="middle">1.5</text>
<line x1="391.34" y1="408.90" x2="391.34" y2="412.30" stroke="#1a1a1a" stroke-width="1.1"/>
<text transform="translate(391.34 422.90) scale(1.0100 1)" font-size="7.900" text-anchor="middle">2.0</text>
<line x1="405.07" y1="408.90" x2="405.07" y2="412.30" stroke="#1a1a1a" stroke-width="1.1"/>
<text transform="translate(405.07 422.90) scale(1.0100 1)" font-size="7.900" text-anchor="middle">2.5</text>
<line x1="418.81" y1="408.90" x2="418.81" y2="412.30" stroke="#1a1a1a" stroke-width="1.1"/>
<text transform="translate(418.81 422.90) scale(1.0100 1)" font-size="7.900" text-anchor="middle">3.0</text>
<text transform="translate(7.00 449.60) scale(0.9245 1)" font-size="12.190" fill="#000" font-weight="bold" style="stroke:#000;stroke-width:0.35px">C</text>
<text transform="translate(178.50 455.00) scale(0.9750 1)" font-size="8.000" text-anchor="middle">Sample size (events)</text>
<line x1="138.40" y1="459.90" x2="219.40" y2="459.90" stroke="#3a3a3a" stroke-width="1.1"/>
<text transform="translate(254.00 455.00) scale(0.9750 1)" font-size="8.000" text-anchor="middle">Median (mo)</text>
<line x1="224.40" y1="459.90" x2="284.00" y2="459.90" stroke="#3a3a3a" stroke-width="1.1"/>
<text transform="translate(13.30 473.00) scale(0.9750 1)" font-size="8.000" textLength="28.72" lengthAdjust="spacing">Analysis</text>
<text transform="translate(159.70 473.00) scale(0.9750 1)" font-size="8.000" text-anchor="middle">InO</text>
<text transform="translate(197.80 473.00) scale(0.9750 1)" font-size="8.000" text-anchor="middle">SC</text>
<text transform="translate(237.80 473.00) scale(0.9750 1)" font-size="8.000" text-anchor="middle">InO</text>
<text transform="translate(269.40 473.00) scale(0.9750 1)" font-size="8.000" text-anchor="middle">SC</text>
<text transform="translate(313.60 447.40) scale(1.0000 1)" font-size="9.300">Favors InO</text>
<text transform="translate(373.60 447.40) scale(1.0000 1)" font-size="9.300">Favors SC</text>
<line x1="335.20" y1="461.50" x2="359.80" y2="461.50" stroke="#111" stroke-width="1.4"/>
<path d="M330.20,461.50 L340.20,457.20 L336.70,461.50 L340.20,465.80 Z" fill="#111"/>
<line x1="367.60" y1="461.50" x2="392.00" y2="461.50" stroke="#111" stroke-width="1.4"/>
<path d="M397.00,461.50 L387.00,457.20 L390.50,461.50 L387.00,465.80 Z" fill="#111"/>
<text transform="translate(471.50 447.00) scale(0.9750 1)" font-size="8.000" text-anchor="middle">Hazard ratio</text>
<text transform="translate(471.50 456.70) scale(0.9750 1)" font-size="8.000" text-anchor="middle">(97.5% CI)</text>
<line x1="430.00" y1="461.50" x2="513.40" y2="461.50" stroke="#1a1a1a" stroke-width="1.1"/>
<line x1="9.00" y1="478.80" x2="513.40" y2="478.80" stroke="#333" stroke-width="1.3"/>
<rect x="9.80" y="485.30" width="503.20" height="11.30" fill="#e0dfe3"/>
<rect x="9.80" y="527.10" width="503.20" height="10.80" fill="#e0dfe3"/>
<rect x="9.80" y="554.10" width="503.20" height="11.20" fill="#e0dfe3"/>
<rect x="9.80" y="580.90" width="503.20" height="10.70" fill="#e0dfe3"/>
<rect x="9.80" y="610.20" width="503.20" height="11.10" fill="#e0dfe3"/>
<line x1="9.00" y1="513.40" x2="513.40" y2="513.40" stroke="#333" stroke-width="1.3"/>
<line x1="363.87" y1="478.80" x2="363.87" y2="640.00" stroke="#1a1a1a" stroke-width="1.3" stroke-dasharray="3.2 3.35" stroke-dashoffset="-0.5"/>
<text transform="translate(13.30 493.60) scale(0.9750 1)" font-size="8.000">All patients (stratified)</text>
<text transform="translate(159.70 493.00) scale(1.0100 1)" font-size="8.000" text-anchor="middle">43 (35)</text>
<text transform="translate(197.70 493.00) scale(1.0100 1)" font-size="8.000" text-anchor="middle">48 (42)</text>
<text transform="translate(237.70 493.00) scale(1.0100 1)" font-size="8.000" text-anchor="middle">6.5</text>
<text transform="translate(269.50 493.00) scale(1.0100 1)" font-size="8.000" text-anchor="middle">5.5</text>
<text transform="translate(471.50 493.00) scale(1.0100 1)" font-size="8.000" text-anchor="middle">0.620 (0.358, 1.074)</text>
<rect x="344.23" y="485.30" width="23.67" height="11.30" fill="#f4c8d8" fill-opacity="0.18"/>
<path d="M346.23,487.40V494.00M346.23,490.70H365.90M365.90,487.40V494.00" stroke="#ee8fb0" stroke-width="2.6" stroke-opacity="0.35" fill="none"/>
<line x1="346.23" y1="490.70" x2="365.90" y2="490.70" stroke="#a51f3f" stroke-width="1.1"/>
<line x1="346.23" y1="487.40" x2="346.23" y2="494.00" stroke="#a51f3f" stroke-width="1.05"/>
<line x1="365.90" y1="487.40" x2="365.90" y2="494.00" stroke="#a51f3f" stroke-width="1.05"/>
<circle cx="353.40" cy="490.70" r="3.2" fill="#ee8fb0" fill-opacity="0.35"/>
<circle cx="353.40" cy="490.70" r="2.3" fill="#a00c36"/>
<text transform="translate(13.30 507.80) scale(0.9750 1)" font-size="8.000">All patients (unstratified)</text>
<text transform="translate(159.70 507.10) scale(1.0100 1)" font-size="8.000" text-anchor="middle">43 (35)</text>
<text transform="translate(197.70 507.10) scale(1.0100 1)" font-size="8.000" text-anchor="middle">48 (42)</text>
<text transform="translate(237.70 507.10) scale(1.0100 1)" font-size="8.000" text-anchor="middle">6.5</text>
<text transform="translate(269.50 507.10) scale(1.0100 1)" font-size="8.000" text-anchor="middle">5.5</text>
<text transform="translate(471.50 507.10) scale(1.0100 1)" font-size="8.000" text-anchor="middle">0.707 (0.422, 1.187)</text>
<path d="M347.99,502.60V509.20M347.99,505.90H369.01M369.01,502.60V509.20" stroke="#ee8fb0" stroke-width="2.6" stroke-opacity="0.35" fill="none"/>
<line x1="347.99" y1="505.90" x2="369.01" y2="505.90" stroke="#a51f3f" stroke-width="1.1"/>
<line x1="347.99" y1="502.60" x2="347.99" y2="509.20" stroke="#a51f3f" stroke-width="1.05"/>
<line x1="369.01" y1="502.60" x2="369.01" y2="509.20" stroke="#a51f3f" stroke-width="1.05"/>
<circle cx="355.70" cy="505.90" r="3.2" fill="#ee8fb0" fill-opacity="0.35"/>
<circle cx="355.70" cy="505.90" r="2.3" fill="#a00c36"/>
<text transform="translate(17.70 535.60) scale(0.9750 1)" font-size="8.000" textLength="49.23" lengthAdjust="spacing">BCR::ABL1+</text>
<text transform="translate(159.70 534.50) scale(1.0100 1)" font-size="8.000" text-anchor="middle">6 (5)</text>
<text transform="translate(197.70 534.50) scale(1.0100 1)" font-size="8.000" text-anchor="middle">7 (6)</text>
<text transform="translate(237.70 534.50) scale(1.0100 1)" font-size="8.000" text-anchor="middle">15.5</text>
<text transform="translate(269.50 534.50) scale(1.0100 1)" font-size="8.000" text-anchor="middle">6.3</text>
<text transform="translate(471.50 534.50) scale(1.0100 1)" font-size="8.000" text-anchor="middle">0.329 (0.064, 1.691)</text>
<rect x="336.16" y="527.10" width="48.69" height="10.80" fill="#f4c8d8" fill-opacity="0.18"/>
<path d="M338.16,529.60V536.20M338.16,532.90H382.85M382.85,529.60V536.20" stroke="#ee8fb0" stroke-width="2.6" stroke-opacity="0.35" fill="none"/>
<line x1="338.16" y1="532.90" x2="382.85" y2="532.90" stroke="#a51f3f" stroke-width="1.1"/>
<line x1="338.16" y1="529.60" x2="338.16" y2="536.20" stroke="#a51f3f" stroke-width="1.05"/>
<line x1="382.85" y1="529.60" x2="382.85" y2="536.20" stroke="#a51f3f" stroke-width="1.05"/>
<circle cx="345.50" cy="532.90" r="3.2" fill="#ee8fb0" fill-opacity="0.35"/>
<circle cx="345.50" cy="532.90" r="2.3" fill="#a00c36"/>
<path d="M339.60,532.90 L342.30,531.20 L342.30,534.60 Z" fill="#a51f3f"/>
<text transform="translate(17.70 548.70) scale(0.9750 1)" font-size="8.000">Low hypodiploidy</text>
<text transform="translate(159.70 548.50) scale(1.0100 1)" font-size="8.000" text-anchor="middle">3 (3)</text>
<text transform="translate(197.70 548.50) scale(1.0100 1)" font-size="8.000" text-anchor="middle">8 (6)</text>
<text transform="translate(237.70 548.50) scale(1.0100 1)" font-size="8.000" text-anchor="middle">5.3</text>
<text transform="translate(269.50 548.50) scale(1.0100 1)" font-size="8.000" text-anchor="middle">3.4</text>
<text transform="translate(471.50 548.50) scale(1.0100 1)" font-size="8.000" text-anchor="middle">1.247 (0.236, 6.588)</text>
<path d="M342.88,543.30V549.90M342.88,546.60H419.30" stroke="#ee8fb0" stroke-width="2.6" stroke-opacity="0.35" fill="none"/>
<line x1="342.88" y1="546.60" x2="419.30" y2="546.60" stroke="#a51f3f" stroke-width="1.1"/>
<line x1="342.88" y1="543.30" x2="342.88" y2="549.90" stroke="#a51f3f" stroke-width="1.05"/>
<path d="M420.80,546.60 L417.20,544.70 L417.20,548.50 Z" fill="#a51f3f"/>
<circle cx="370.20" cy="546.60" r="3.2" fill="#ee8fb0" fill-opacity="0.35"/>
<circle cx="370.20" cy="546.60" r="2.3" fill="#a00c36"/>
<text transform="translate(17.70 561.80) scale(0.9750 1)" font-size="8.000" textLength="57.64" lengthAdjust="spacing">BCR::ABL1-like</text>
<text transform="translate(159.70 562.50) scale(1.0100 1)" font-size="8.000" text-anchor="middle">7 (4)</text>
<text transform="translate(197.70 562.50) scale(1.0100 1)" font-size="8.000" text-anchor="middle">5 (5)</text>
<text transform="translate(237.70 562.50) scale(1.0100 1)" font-size="8.000" text-anchor="middle">16.5</text>
<text transform="translate(269.50 562.50) scale(1.0100 1)" font-size="8.000" text-anchor="middle">6.8</text>
<text transform="translate(471.50 562.50) scale(1.0100 1)" font-size="8.000" text-anchor="middle">0.299 (0.057, 1.566)</text>
<rect x="335.97" y="554.10" width="48.63" height="11.20" fill="#f4c8d8" fill-opacity="0.18"/>
<path d="M337.97,556.40V563.00M337.97,559.70H382.60M382.60,556.40V563.00" stroke="#ee8fb0" stroke-width="2.6" stroke-opacity="0.35" fill="none"/>
<line x1="337.97" y1="559.70" x2="382.60" y2="559.70" stroke="#a51f3f" stroke-width="1.1"/>
<line x1="337.97" y1="556.40" x2="337.97" y2="563.00" stroke="#a51f3f" stroke-width="1.05"/>
<line x1="382.60" y1="556.40" x2="382.60" y2="563.00" stroke="#a51f3f" stroke-width="1.05"/>
<circle cx="345.50" cy="559.70" r="3.2" fill="#ee8fb0" fill-opacity="0.35"/>
<circle cx="345.50" cy="559.70" r="2.3" fill="#a00c36"/>
<path d="M340.00,559.70 L342.70,558.00 L342.70,561.40 Z" fill="#a51f3f"/>
<text transform="translate(17.70 574.70) scale(0.9750 1)" font-size="8.000">KMT2A</text>
<text transform="translate(159.70 576.50) scale(1.0100 1)" font-size="8.000" text-anchor="middle">2 (2)</text>
<text transform="translate(197.70 576.50) scale(1.0100 1)" font-size="8.000" text-anchor="middle">6 (6)</text>
<text transform="translate(237.70 576.50) scale(1.0100 1)" font-size="8.000" text-anchor="middle">7.6</text>
<text transform="translate(269.50 576.50) scale(1.0100 1)" font-size="8.000" text-anchor="middle">4.0</text>
<text transform="translate(471.50 576.50) scale(1.0100 1)" font-size="8.000" text-anchor="middle">0.785 (0.117, 5.262)</text>
<path d="M339.61,569.10V575.70M339.61,572.40H419.30" stroke="#ee8fb0" stroke-width="2.6" stroke-opacity="0.35" fill="none"/>
<line x1="339.61" y1="572.40" x2="419.30" y2="572.40" stroke="#a51f3f" stroke-width="1.1"/>
<line x1="339.61" y1="569.10" x2="339.61" y2="575.70" stroke="#a51f3f" stroke-width="1.05"/>
<path d="M420.80,572.40 L417.20,570.50 L417.20,574.30 Z" fill="#a51f3f"/>
<circle cx="357.80" cy="572.40" r="3.2" fill="#ee8fb0" fill-opacity="0.35"/>
<circle cx="357.80" cy="572.40" r="2.3" fill="#a00c36"/>
<text transform="translate(17.70 589.40) scale(0.9750 1)" font-size="8.000">Other–fusion-driven<tspan font-size="5.2" dx="0.4" dy="-3.4">b</tspan></text>
<text transform="translate(159.70 590.50) scale(1.0100 1)" font-size="8.000" text-anchor="middle">8 (8)</text>
<text transform="translate(197.70 590.50) scale(1.0100 1)" font-size="8.000" text-anchor="middle">5 (4)</text>
<text transform="translate(237.70 590.50) scale(1.0100 1)" font-size="8.000" text-anchor="middle">3.9</text>
<text transform="translate(269.50 590.50) scale(1.0100 1)" font-size="8.000" text-anchor="middle">4.9</text>
<text transform="translate(471.50 590.50) scale(1.0100 1)" font-size="8.000" text-anchor="middle">1.270 (0.318, 5.074)</text>
<rect x="343.14" y="580.90" width="79.66" height="10.70" fill="#f4c8d8" fill-opacity="0.18"/>
<path d="M345.14,583.30V589.90M345.14,586.60H419.30" stroke="#ee8fb0" stroke-width="2.6" stroke-opacity="0.35" fill="none"/>
<line x1="345.14" y1="586.60" x2="419.30" y2="586.60" stroke="#a51f3f" stroke-width="1.1"/>
<line x1="345.14" y1="583.30" x2="345.14" y2="589.90" stroke="#a51f3f" stroke-width="1.05"/>
<path d="M420.80,586.60 L417.20,584.70 L417.20,588.50 Z" fill="#a51f3f"/>
<circle cx="370.90" cy="586.60" r="3.2" fill="#ee8fb0" fill-opacity="0.35"/>
<circle cx="370.90" cy="586.60" r="2.3" fill="#a00c36"/>
<text transform="translate(17.70 604.50) scale(0.9750 1)" font-size="8.000">Other–aneuploidy<tspan font-size="5.2" dx="0.4" dy="-3.4">c</tspan></text>
<text transform="translate(159.70 604.60) scale(1.0100 1)" font-size="8.000" text-anchor="middle">3 (3)</text>
<text transform="translate(197.70 604.60) scale(1.0100 1)" font-size="8.000" text-anchor="middle">0 (–)</text>
<text transform="translate(237.70 604.60) scale(1.0100 1)" font-size="8.000" text-anchor="middle">8.6</text>
<text transform="translate(269.50 604.60) scale(1.0100 1)" font-size="8.000" text-anchor="middle">–</text>
<text transform="translate(471.50 604.60) scale(1.0100 1)" font-size="8.000" text-anchor="middle">– (–, –)</text>
<text transform="translate(17.70 618.40) scale(0.9750 1)" font-size="8.000">Other–mutation<tspan font-size="5.2" dx="0.4" dy="-3.4">d</tspan></text>
<text transform="translate(159.70 618.50) scale(1.0100 1)" font-size="8.000" text-anchor="middle">1 (1)</text>
<text transform="translate(197.70 618.50) scale(1.0100 1)" font-size="8.000" text-anchor="middle">5 (4)</text>
<text transform="translate(237.70 618.50) scale(1.0100 1)" font-size="8.000" text-anchor="middle">3.6</text>
<text transform="translate(269.50 618.50) scale(1.0100 1)" font-size="8.000" text-anchor="middle">14.6</text>
<text transform="translate(471.50 618.50) scale(1.0100 1)" font-size="8.000" text-anchor="middle">4.472 (0.187, 106.979)</text>
<rect x="339.54" y="610.20" width="83.26" height="11.10" fill="#f4c8d8" fill-opacity="0.18"/>
<path d="M341.54,614.30V620.90M341.54,617.60H419.30" stroke="#ee8fb0" stroke-width="2.6" stroke-opacity="0.35" fill="none"/>
<line x1="341.54" y1="617.60" x2="419.30" y2="617.60" stroke="#a51f3f" stroke-width="1.1"/>
<line x1="341.54" y1="614.30" x2="341.54" y2="620.90" stroke="#a51f3f" stroke-width="1.05"/>
<path d="M420.80,617.60 L417.20,615.70 L417.20,619.50 Z" fill="#a51f3f"/>
<text transform="translate(17.70 632.20) scale(0.9750 1)" font-size="8.000">Low blast</text>
<text transform="translate(159.70 632.40) scale(1.0100 1)" font-size="8.000" text-anchor="middle">13 (9)</text>
<text transform="translate(197.70 632.40) scale(1.0100 1)" font-size="8.000" text-anchor="middle">12 (11)</text>
<text transform="translate(237.70 632.40) scale(1.0100 1)" font-size="8.000" text-anchor="middle">7.4</text>
<text transform="translate(269.50 632.40) scale(1.0100 1)" font-size="8.000" text-anchor="middle">7.7</text>
<text transform="translate(471.50 632.40) scale(1.0100 1)" font-size="8.000" text-anchor="middle">0.514 (0.178, 1.478)</text>
<path d="M341.29,627.20V633.80M341.29,630.50H377.00M377.00,627.20V633.80" stroke="#ee8fb0" stroke-width="2.6" stroke-opacity="0.35" fill="none"/>
<line x1="341.29" y1="630.50" x2="377.00" y2="630.50" stroke="#a51f3f" stroke-width="1.1"/>
<line x1="341.29" y1="627.20" x2="341.29" y2="633.80" stroke="#a51f3f" stroke-width="1.05"/>
<line x1="377.00" y1="627.20" x2="377.00" y2="633.80" stroke="#a51f3f" stroke-width="1.05"/>
<circle cx="350.20" cy="630.50" r="3.2" fill="#ee8fb0" fill-opacity="0.35"/>
<circle cx="350.20" cy="630.50" r="2.3" fill="#a00c36"/>
<text transform="translate(13.30 522.50) scale(0.9750 1)" font-size="8.000">Leukemic subtype</text>
<line x1="330.00" y1="640.00" x2="421.60" y2="640.00" stroke="#1a1a1a" stroke-width="1.2"/>
<line x1="336.40" y1="640.00" x2="336.40" y2="643.40" stroke="#1a1a1a" stroke-width="1.1"/>
<text transform="translate(336.40 653.00) scale(1.0100 1)" font-size="7.900" text-anchor="middle">0.0</text>
<line x1="350.13" y1="640.00" x2="350.13" y2="643.40" stroke="#1a1a1a" stroke-width="1.1"/>
<text transform="translate(350.13 653.00) scale(1.0100 1)" font-size="7.900" text-anchor="middle">0.5</text>
<line x1="363.87" y1="640.00" x2="363.87" y2="643.40" stroke="#1a1a1a" stroke-width="1.1"/>
<text transform="translate(363.87 653.00) scale(1.0100 1)" font-size="7.900" text-anchor="middle">1.0</text>
<line x1="377.60" y1="640.00" x2="377.60" y2="643.40" stroke="#1a1a1a" stroke-width="1.1"/>
<text transform="translate(377.60 653.00) scale(1.0100 1)" font-size="7.900" text-anchor="middle">1.5</text>
<line x1="391.34" y1="640.00" x2="391.34" y2="643.40" stroke="#1a1a1a" stroke-width="1.1"/>
<text transform="translate(391.34 653.00) scale(1.0100 1)" font-size="7.900" text-anchor="middle">2.0</text>
<line x1="405.07" y1="640.00" x2="405.07" y2="643.40" stroke="#1a1a1a" stroke-width="1.1"/>
<text transform="translate(405.07 653.00) scale(1.0100 1)" font-size="7.900" text-anchor="middle">2.5</text>
<line x1="418.81" y1="640.00" x2="418.81" y2="643.40" stroke="#1a1a1a" stroke-width="1.1"/>
<text transform="translate(418.81 653.00) scale(1.0100 1)" font-size="7.900" text-anchor="middle">3.0</text>
<rect x="0.5" y="0.5" width="519" height="661" fill="none" stroke="#555" stroke-width="1.2"/>
</svg>
</body></html>
